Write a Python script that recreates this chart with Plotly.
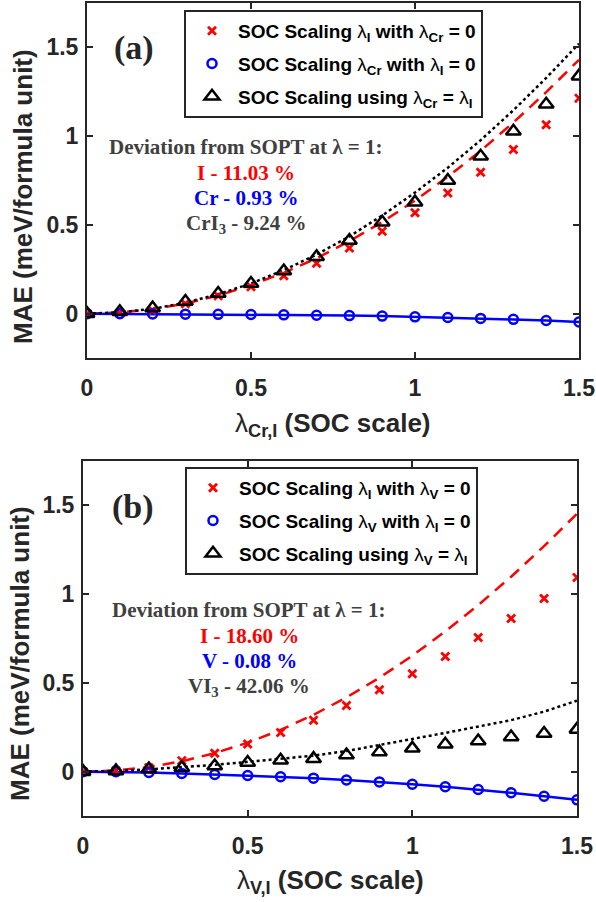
import plotly.graph_objects as go

# SOC scaling factor (shared x values for both panels)
lam = [0.0, 0.1, 0.2, 0.3, 0.4, 0.5, 0.6, 0.7, 0.8, 0.9, 1.0, 1.1, 1.2, 1.3, 1.4, 1.5]

# Panel (a): CrI3
a_I_pts = [0.000, 0.004, 0.018, 0.055, 0.100, 0.152, 0.214, 0.284, 0.370, 0.464, 0.568, 0.679, 0.797, 0.925, 1.064, 1.214]
a_I_sopt = [0.000, 0.006, 0.025, 0.057, 0.102, 0.160, 0.230, 0.312, 0.408, 0.516, 0.637, 0.771, 0.917, 1.077, 1.248, 1.430]
a_Cr_pts = [0.000, -0.001, -0.002, -0.003, -0.004, -0.005, -0.007, -0.009, -0.011, -0.014, -0.018, -0.022, -0.027, -0.032, -0.039, -0.047]
a_Cr_sopt = [0.000, -0.001, -0.002, -0.003, -0.004, -0.005, -0.007, -0.009, -0.011, -0.014, -0.018, -0.022, -0.027, -0.033, -0.039, -0.047]
a_CrI3_pts = [0.000, 0.010, 0.032, 0.068, 0.113, 0.170, 0.240, 0.320, 0.412, 0.515, 0.628, 0.750, 0.886, 1.027, 1.179, 1.338]
a_CrI3_sopt = [0.000, 0.007, 0.027, 0.061, 0.109, 0.170, 0.245, 0.333, 0.435, 0.553, 0.682, 0.822, 0.977, 1.146, 1.328, 1.521]

# Panel (b): VI3
b_I_pts = [0.000, 0.005, 0.022, 0.062, 0.103, 0.155, 0.221, 0.290, 0.373, 0.461, 0.551, 0.648, 0.755, 0.863, 0.976, 1.094]
b_I_sopt = [0.000, 0.006, 0.026, 0.058, 0.104, 0.163, 0.235, 0.320, 0.418, 0.529, 0.653, 0.790, 0.938, 1.098, 1.270, 1.453]
b_V_pts = [0.000, -0.001, -0.005, -0.010, -0.016, -0.022, -0.029, -0.037, -0.047, -0.058, -0.071, -0.085, -0.101, -0.119, -0.139, -0.159]
b_V_sopt = [0.000, -0.001, -0.005, -0.010, -0.016, -0.022, -0.029, -0.037, -0.047, -0.058, -0.071, -0.085, -0.101, -0.119, -0.139, -0.159]
b_VI3_pts = [0.000, 0.004, 0.015, 0.022, 0.032, 0.051, 0.064, 0.073, 0.094, 0.110, 0.131, 0.154, 0.172, 0.195, 0.215, 0.238]
b_VI3_sopt = [0.000, 0.004, 0.013, 0.024, 0.038, 0.055, 0.072, 0.090, 0.116, 0.148, 0.184, 0.218, 0.252, 0.290, 0.338, 0.400]

tick_vals = [0, 0.5, 1, 1.5]
tick_text = ["0", "0.5", "1", "1.5"]

# Deviation summary lines per panel
dev_head = "Deviation from SOPT at λ = 1:"
dev_a_lines = ["I - 11.03 %", "Cr - 0.93 %", "CrI<sub>3</sub> - 9.24 %"]
dev_b_lines = ["I - 18.60 %", "V - 0.08 %", "VI<sub>3</sub> - 42.06 %"]

RED = "#FF0000"
BLUE = "#0000FF"
BLACK = "#000000"
FRAME = "#262626"
TEXT = "#404040"
W, H = 596, 902

L = '<span style="font-weight:normal">λ</span>'


def panel_traces(xa, ya, leg, I_pts, I_sopt, M_pts, M_sopt, C_pts, C_sopt, M):
    tr = []
    common = dict(xaxis=xa, yaxis=ya)
    tr.append(go.Scatter(x=lam, y=I_sopt, mode="lines", showlegend=False,
                         line=dict(color=RED, width=2.5, dash="12px,8px"), **common))
    tr.append(go.Scatter(x=lam, y=M_sopt, mode="lines", showlegend=False,
                         line=dict(color=BLUE, width=2.5), **common))
    tr.append(go.Scatter(x=lam, y=C_sopt, mode="lines", showlegend=False,
                         line=dict(color=BLACK, width=2.5, dash="3px,3px"), **common))
    tr.append(go.Scatter(
        x=lam, y=I_pts, mode="markers", legend=leg, legendgroup=leg + "1",
        name=f"SOC Scaling {L}<sub>I</sub> with {L}<sub>{M}</sub> = 0",
        marker=dict(symbol="x-thin", size=8, line=dict(color=RED, width=2.8), color=RED),
        **common))
    tr.append(go.Scatter(
        x=lam, y=M_pts, mode="markers", legend=leg, legendgroup=leg + "2",
        name=f"SOC Scaling {L}<sub>{M}</sub> with {L}<sub>I</sub> = 0",
        marker=dict(symbol="circle-open", size=9, color=BLUE, line=dict(width=2.5)),
        **common))
    tr.append(go.Scatter(
        x=lam, y=C_pts, mode="markers", legend=leg, legendgroup=leg + "3",
        name=f"SOC Scaling using {L}<sub>{M}</sub> = {L}<sub>I</sub>",
        marker=dict(symbol="triangle-up-open", size=13, color=BLACK, line=dict(width=2.5)),
        **common))
    return tr


fig = go.Figure()
for t in panel_traces("x", "y", "legend", a_I_pts, a_I_sopt, a_Cr_pts, a_Cr_sopt,
                      a_CrI3_pts, a_CrI3_sopt, "Cr"):
    fig.add_trace(t)
for t in panel_traces("x2", "y2", "legend2", b_I_pts, b_I_sopt, b_V_pts, b_V_sopt,
                      b_VI3_pts, b_VI3_sopt, "V"):
    fig.add_trace(t)


def px_x(p):
    return p / W


def px_y(p):
    return 1 - p / H


axis_common = dict(
    showline=True, linecolor=FRAME, linewidth=2, mirror="ticks",
    ticks="inside", ticklen=6, tickwidth=2, tickcolor=FRAME,
    showgrid=False, zeroline=False, automargin=False,
    tickfont=dict(family="Liberation Sans", size=23, color=FRAME, weight="bold"),
    tickvals=tick_vals, ticktext=tick_text,
)

fig.update_layout(
    width=W, height=H, autosize=False, margin=dict(l=0, r=0, t=0, b=0),
    paper_bgcolor="white", plot_bgcolor="white",
    xaxis=dict(domain=[px_x(87), px_x(579)], range=[0, 1.5], anchor="y",
               ticklabelstandoff=8, **axis_common),
    yaxis=dict(domain=[px_y(358), px_y(3)], range=[-0.25, 1.75], anchor="x",
               ticklabelstandoff=2, **axis_common),
    xaxis2=dict(domain=[px_x(83), px_x(577)], range=[0, 1.5], anchor="y2",
                ticklabelstandoff=8, **axis_common),
    yaxis2=dict(domain=[px_y(816), px_y(461)], range=[-0.25, 1.75], anchor="x2",
                ticklabelstandoff=2, **axis_common),
)

legend_common = dict(
    xanchor="left", yanchor="top", bgcolor="white",
    bordercolor=FRAME, borderwidth=2, tracegroupgap=5,
    font=dict(family="Liberation Sans", size=19, color=BLACK, weight="bold"),
    itemwidth=42,
)
fig.update_layout(
    legend=dict(x=px_x(184), y=px_y(10), **legend_common),
    legend2=dict(x=px_x(185), y=px_y(467), **legend_common),
)

ann = []


def add_text(text, x, y, font, **kw):
    ann.append(dict(text=text, x=px_x(x), y=px_y(y), xref="paper", yref="paper",
                    xanchor="center", yanchor="middle", showarrow=False, font=font, **kw))


title_font = dict(family="Liberation Sans", size=26, color=FRAME, weight="bold")
# axis titles
add_text("MAE (meV/formula unit)", 23, 197, title_font, textangle=-90)
add_text("MAE (meV/formula unit)", 20, 654, title_font, textangle=-90)
add_text(f"{L}<sub>Cr,I</sub> (SOC scale)", 333, 424, title_font)
add_text(f"{L}<sub>V,I</sub> (SOC scale)", 330, 881, title_font)

# panel labels
lab_font = dict(family="Liberation Serif", size=34, color=FRAME, weight="bold")
add_text("(a)", 134, 48, lab_font)
add_text("(b)", 133, 507, lab_font)

# deviation summaries, one line per annotation
dev_colors = [RED, BLUE, TEXT]
for head_y, cx, lines in [(147, 246, dev_a_lines), (610, 249, dev_b_lines)]:
    add_text(dev_head, cx, head_y,
             dict(family="Liberation Serif", size=21, color=TEXT, weight="bold"))
    for i, (txt, col) in enumerate(zip(lines, dev_colors)):
        add_text(txt, cx, head_y + 25.7 * (i + 1),
                 dict(family="Liberation Serif", size=21, color=col, weight="bold"))

fig.update_layout(annotations=ann)

fig.write_html(
    "out.html",
    config={"responsive": False},
    post_script="document.documentElement.style.overflow='hidden';"
                "document.body.style.margin='0';document.body.style.overflow='hidden';",
)
